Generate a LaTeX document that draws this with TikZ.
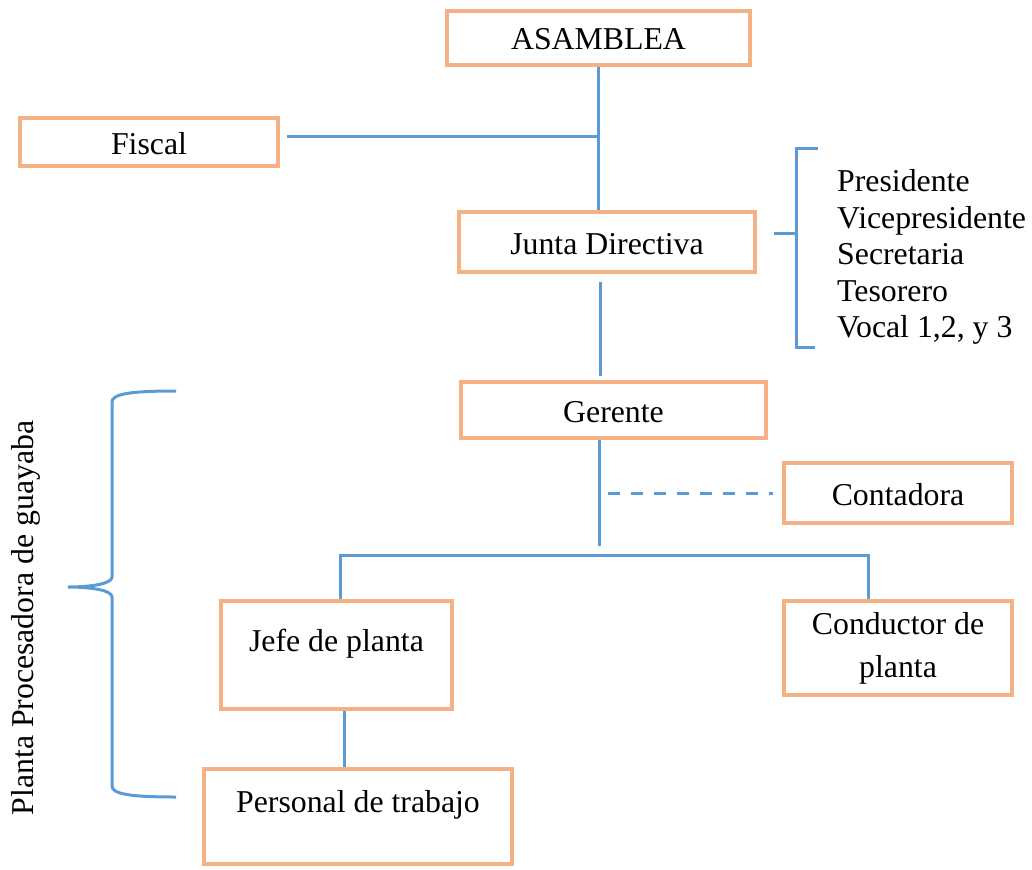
\documentclass[tikz,border=0pt]{standalone}
\usepackage{fontspec}
\setmainfont{Liberation Serif}
\definecolor{boxorange}{HTML}{F4B183}
\definecolor{linkblue}{HTML}{5B9BD5}
\begin{document}
\begin{tikzpicture}[x=1pt,y=-1pt,
  box/.style={draw=boxorange, line width=4pt, rectangle, inner sep=0pt,
    font=\fontsize{31.8}{36.5}\selectfont},
  one/.style={text height=26pt, text depth=2pt},
  link/.style={draw=linkblue, line width=3pt},
  plain/.style={inner sep=0pt, font=\fontsize{31.8}{36.5}\selectfont}
]
\useasboundingbox (0,0) rectangle (1032,869);
% boxes
\node[box,one,minimum width=303pt,minimum height=54pt] (asam) at (598.5,38) {ASAMBLEA};
\node[box,minimum width=258pt,minimum height=48pt,text height=26pt,text depth=-4pt] (fiscal) at (149,142) {Fiscal};
\node[box,one,minimum width=296pt,minimum height=60pt] (junta) at (607,242) {Junta Directiva};
\node[box,one,minimum width=305pt,minimum height=56pt] (ger) at (613.5,410) {Gerente};
\node[box,one,minimum width=228pt,minimum height=60pt] (cont) at (898,493) {Contadora};
\node[box,minimum width=231pt,minimum height=108pt,text height=26pt,text depth=34pt] (jefe) at (336.5,655) {Jefe de planta};
\node[box,align=center,minimum width=228pt,minimum height=94pt,
  font=\fontsize{31.8}{43}\selectfont] (cond) at (898,648) {Conductor de\\planta};
\node[box,minimum width=308pt,minimum height=95pt,text height=26pt,text depth=35pt] (pers) at (358,816.5) {Personal de trabajo};
% texts
\node[plain,align=left,anchor=west] (members) at (837,257)
  {Presidente\\Vicepresidente\\Secretaria\\Tesorero\\Vocal 1,2, y 3};
\node[plain,rotate=90] (planta) at (26,618) {Planta Procesadora de guayaba};
% connectors
\draw[link] (asam.south) -- (asam.south |- junta.north);
\coordinate (fj) at (598.5,137);
\draw[link] (fiscal.east |- fj) ++(7,0) -- (fj);
\draw[link] ([shift={(-7,8)}]junta.south) -- ([shift={(-13.5,-4)}]ger.north);
\coordinate (gj) at (599,546);
\draw[link] (ger.south -| gj) -- (gj);
\draw[link,dash pattern=on 12pt off 11pt] (gj |- cont.west) ++(9,0) -- ([xshift=-9pt]cont.west);
\coordinate (bl) at (340,555);
\coordinate (br) at (868,555);
\draw[link] (jefe.north -| bl) -- (bl) -- (br) -- (cond.north -| br);
\coordinate (jd) at ([xshift=7.5pt]jefe.south);
\draw[link] (jd) -- (jd |- pers.north);
% bracket for junta directiva
\draw[link] (818,149) -- (796,149) -- (796,347) -- (815,347);
\draw[link] (774,233) -- (796,233);
% brace
\draw[link] (176,391) .. controls (130,391) and (112,394) .. (112,402) -- (112,577)
  .. controls (112,584) and (90,587) .. (68,587)
  .. controls (90,587) and (112,590) .. (112,597) -- (112,786)
  .. controls (112,794) and (130,797) .. (176,797);
\end{tikzpicture}
\end{document}
